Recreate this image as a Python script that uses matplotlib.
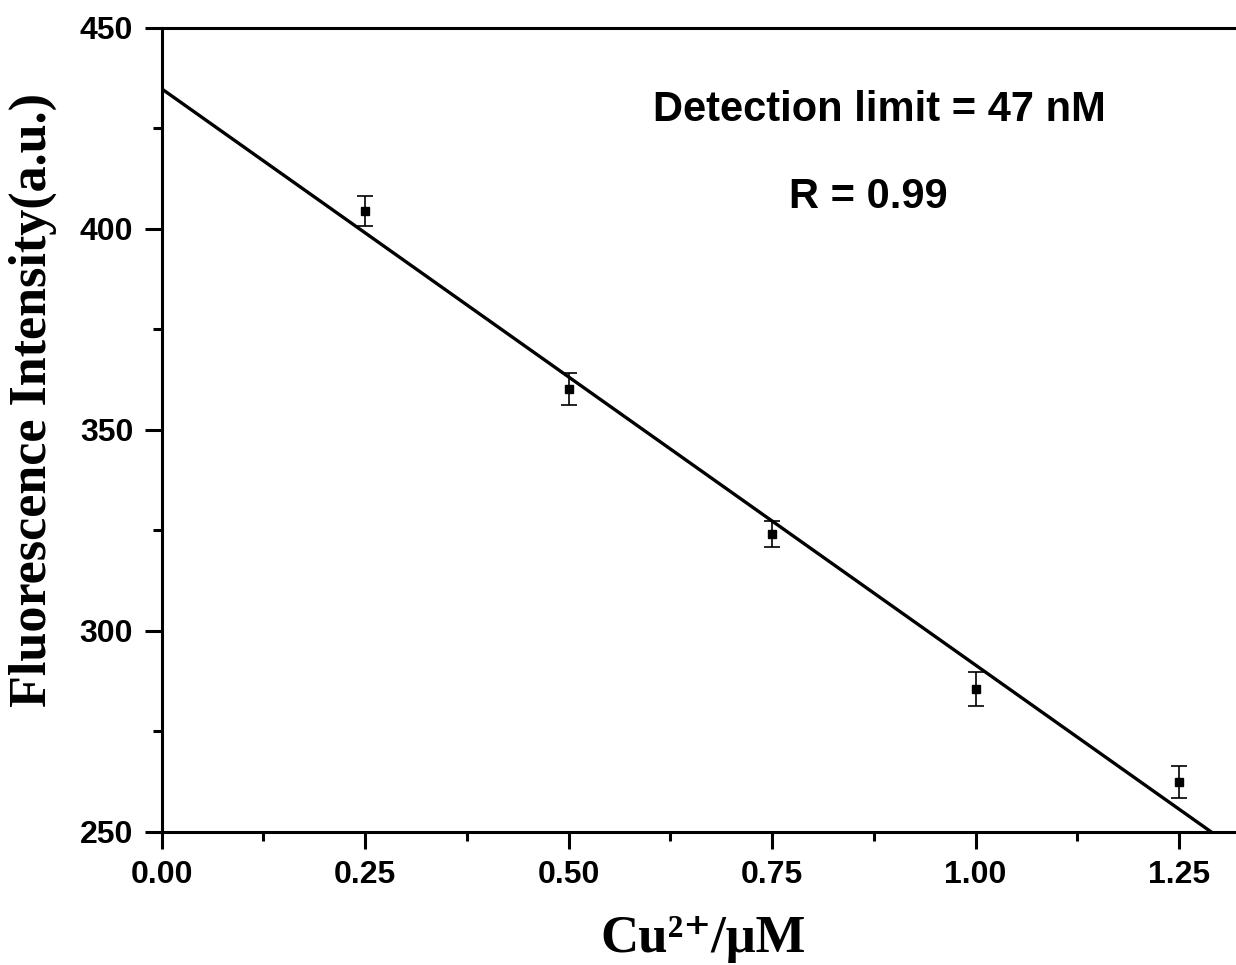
import numpy as np
import matplotlib
matplotlib.use('Agg')
import matplotlib.pyplot as plt
from matplotlib.ticker import MultipleLocator

# Cu2+ concentration (uM) vs fluorescence intensity
conc = [0.25, 0.50, 0.75, 1.00, 1.25]
intensity = [404.4, 360.1, 324.1, 285.6, 262.4]
err = [3.7, 4.0, 3.2, 4.2, 3.9]

x_ticks = [0.00, 0.25, 0.50, 0.75, 1.00, 1.25]
y_ticks = [250, 300, 350, 400, 450]

sans = 'Liberation Sans'
serif = ['Liberation Serif', 'DejaVu Serif']

# linear fit
slope, intercept = np.polyfit(conc, intensity, 1)
fit_x = np.array([0.0, 1.32])
fit_y = slope * fit_x + intercept

fig = plt.figure(figsize=(12.36, 9.65), dpi=100)
ax = fig.add_axes([0.1308, 0.1381, 0.8692, 0.8329])

ax.plot(fit_x, fit_y, color='black', lw=2.4, zorder=2)
ax.errorbar(conc, intensity, yerr=err, fmt='s', color='black', ms=6,
            elinewidth=1.2, capsize=6, capthick=1.2, zorder=3)

ax.set_xlim(0, 1.32)
ax.set_ylim(250, 450)
ax.set_xticks(x_ticks)
ax.set_yticks(y_ticks)
ax.xaxis.set_minor_locator(MultipleLocator(0.125))
ax.yaxis.set_minor_locator(MultipleLocator(25))
ax.set_xticklabels(['%.2f' % t for t in x_ticks])
ax.set_yticklabels([str(t) for t in y_ticks])

for lab in ax.get_xticklabels() + ax.get_yticklabels():
    lab.set_fontfamily(sans)
    lab.set_fontweight('bold')
    lab.set_fontsize(23)

ax.tick_params(which='major', direction='out', length=12.5, width=2.2, pad=8)
ax.tick_params(which='minor', direction='out', length=6.5, width=2.2)
ax.tick_params(top=False, right=False)

for side in ['left', 'bottom', 'top']:
    ax.spines[side].set_linewidth(2.2)
ax.spines['right'].set_visible(False)

ax.set_xlabel('Cu\u00b2\u207a/\u03bcM', family=serif, weight='bold',
              fontsize=38, va='center')
ax.xaxis.set_label_coords(0.5037, -0.1335)
ax.set_ylabel('Fluorescence Intensity(a.u.)', family=serif, weight='bold',
              fontsize=37.5, va='center')
ax.yaxis.set_label_coords(-0.1195, 0.537)

ax.text(0.882, 429.6, 'Detection limit = 47 nM', family=sans, weight='bold',
        fontsize=30, ha='center', va='center')
ax.text(0.868, 408.0, 'R = 0.99', family=sans, weight='bold',
        fontsize=30, ha='center', va='center')

fig.savefig('out.png', dpi=100)
